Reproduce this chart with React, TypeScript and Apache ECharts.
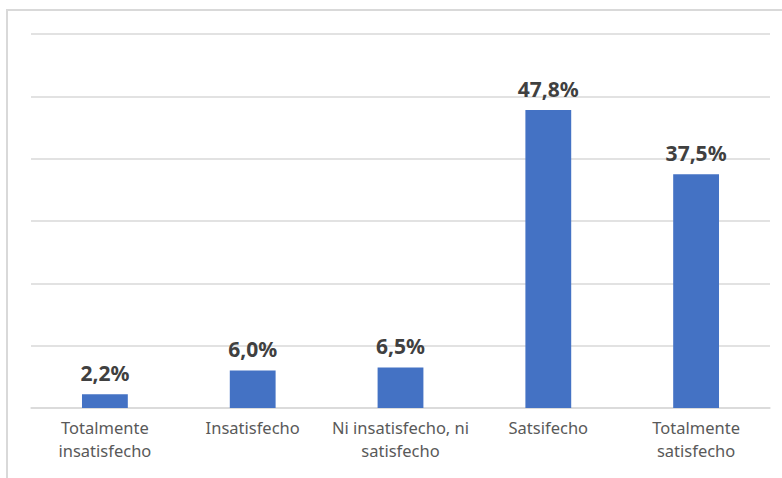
import React, { useEffect, useRef } from "react";
import * as echarts from "echarts";

const categories = [
  "Totalmente\ninsatisfecho",
  "Insatisfecho",
  "Ni insatisfecho, ni\nsatisfecho",
  "Satsifecho",
  "Totalmente\nsatisfecho",
];
const values = [2.2, 6.0, 6.5, 47.8, 37.5];

export default function App() {
  const ref = useRef<HTMLDivElement>(null);
  useEffect(() => {
    if (!ref.current) return;
    const chart = echarts.init(ref.current, undefined, { renderer: "svg" });
    chart.setOption({
      animation: false,
      backgroundColor: "#ffffff",
      grid: { left: 31, right: 12, top: 34, bottom: 70, containLabel: false },
      xAxis: {
        type: "category",
        data: categories,
        axisLine: { lineStyle: { color: "#d9d9d9", width: 1.5 } },
        axisTick: { show: false },
        axisLabel: {
          color: "#595959",
          fontFamily: "Noto Sans",
          fontSize: 16.5,
          lineHeight: 23,
          margin: 8,
          interval: 0,
        },
      },
      yAxis: {
        type: "value",
        min: 0,
        max: 60,
        interval: 10,
        axisLabel: { show: false },
        axisLine: { show: false },
        axisTick: { show: false },
        splitLine: { lineStyle: { color: "#d9d9d9", width: 1.5 } },
      },
      series: [
        {
          type: "bar",
          data: values,
          barWidth: "31%",
          itemStyle: { color: "#4472C4" },
          label: {
            show: true,
            position: "top",
            distance: 11,
            color: "#404040",
            fontFamily: "Noto Sans",
            fontWeight: "bold",
            fontSize: 21,
            formatter: (p: any) => p.value.toFixed(1).replace(".", ",") + "%",
          },
        },
      ],
      graphic: [
        {
          type: "rect",
          shape: { x: 7, y: 10, width: 800, height: 500 },
          style: { fill: "none", stroke: "#d9d9d9", lineWidth: 2 },
          silent: true,
        },
      ],
    });
    return () => chart.dispose();
  }, []);
  return (
    <div
      ref={ref}
      style={{ position: "fixed", left: 0, top: 0, width: 782, height: 478 }}
    />
  );
}
